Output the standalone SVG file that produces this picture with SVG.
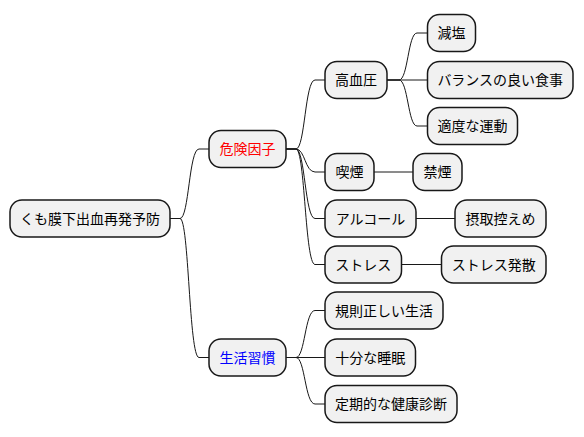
<svg xmlns="http://www.w3.org/2000/svg" width="584" height="437" viewBox="0 0 584 437">
<style>
.n rect{fill:#F1F1F1;stroke:#181818;stroke-width:1.5}
.n text{font-family:"Liberation Sans","Noto Sans CJK JP",sans-serif;font-size:14px;fill:#000;text-anchor:middle;dominant-baseline:central}
.c path{fill:none;stroke:#181818;stroke-width:1}
</style>
<g class="c">
<path d="M170,218.5 L180,218.5 C189,218.5 189,149 199,149 L209,149"/>
<path d="M170,218.5 L180,218.5 C189,218.5 189,357.5 199,357.5 L209,357.5"/>
<path d="M286,149 L296,149 C305,149 305,80 315,80 L325,80"/>
<path d="M286,149 L296,149 C305,149 305,172 315,172 L325,172"/>
<path d="M286,149 L296,149 C305,149 305,218.5 315,218.5 L325,218.5"/>
<path d="M286,149 L296,149 C305,149 305,264.5 315,264.5 L325,264.5"/>
<path d="M387,80 L399,80 C408,80 408,33 417,33 L427.5,33"/>
<path d="M387,80 L427.5,80"/>
<path d="M387,80 L399,80 C408,80 408,126 417,126 L427.5,126"/>
<path d="M374,172 L413,172"/>
<path d="M416,218.5 L455,218.5"/>
<path d="M401.5,264.5 L441.5,264.5"/>
<path d="M286,357.5 L296,357.5 C305,357.5 305,310.5 315,310.5 L325,310.5"/>
<path d="M286,357.5 L325,357.5"/>
<path d="M286,357.5 L296,357.5 C305,357.5 305,404 315,404 L325,404"/>
</g>
<g id="root" class="n"><rect x="10" y="200" width="160" height="37" rx="12"/><text x="90" y="218.5">くも膜下出血再発予防</text></g>
<g id="risk" class="n"><rect x="209" y="130.5" width="77" height="37" rx="12"/><text x="247.5" y="149" style="fill:#FF0000">危険因子</text></g>
<g id="bp" class="n"><rect x="325" y="61.5" width="62" height="37" rx="12"/><text x="356" y="80">高血圧</text></g>
<g id="salt" class="n"><rect x="427.5" y="14.5" width="48" height="37" rx="12"/><text x="451.5" y="33">減塩</text></g>
<g id="diet" class="n"><rect x="427.5" y="61.5" width="145.5" height="37" rx="12"/><text x="500.25" y="80">バランスの良い食事</text></g>
<g id="exercise" class="n"><rect x="427.5" y="107.5" width="90" height="37" rx="12"/><text x="472.5" y="126">適度な運動</text></g>
<g id="smoke" class="n"><rect x="325" y="153.5" width="49" height="37" rx="12"/><text x="349.5" y="172">喫煙</text></g>
<g id="nosmoke" class="n"><rect x="413" y="153.5" width="49" height="37" rx="12"/><text x="437.5" y="172">禁煙</text></g>
<g id="alcohol" class="n"><rect x="325" y="200" width="91" height="37" rx="12"/><text x="370.5" y="218.5">アルコール</text></g>
<g id="moderate" class="n"><rect x="455" y="200" width="91" height="37" rx="12"/><text x="500.5" y="218.5">摂取控えめ</text></g>
<g id="stress" class="n"><rect x="325" y="246" width="76.5" height="37" rx="12"/><text x="363.25" y="264.5">ストレス</text></g>
<g id="relief" class="n"><rect x="441.5" y="246" width="104.5" height="37" rx="12"/><text x="493.75" y="264.5">ストレス発散</text></g>
<g id="habit" class="n"><rect x="209" y="339" width="77" height="37" rx="12"/><text x="247.5" y="357.5" style="fill:#0000FF">生活習慣</text></g>
<g id="regular" class="n"><rect x="325" y="292" width="118" height="37" rx="12"/><text x="384" y="310.5">規則正しい生活</text></g>
<g id="sleep" class="n"><rect x="325" y="339" width="90.5" height="37" rx="12"/><text x="370.25" y="357.5">十分な睡眠</text></g>
<g id="checkup" class="n"><rect x="325" y="385.5" width="132" height="37" rx="12"/><text x="391" y="404">定期的な健康診断</text></g>
</svg>
